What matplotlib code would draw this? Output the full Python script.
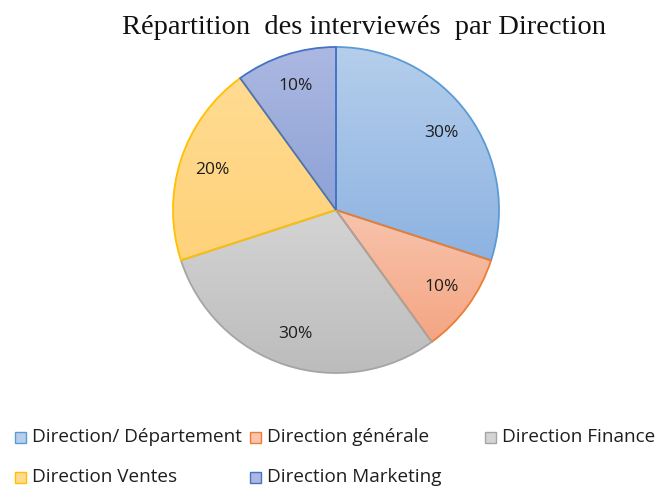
import numpy as np
import matplotlib
matplotlib.use("Agg")
import matplotlib.pyplot as plt
from matplotlib.colors import LinearSegmentedColormap
from matplotlib.patches import Rectangle

# Interviewees by department (share in %)
labels = ['Direction/ Département', 'Direction générale', 'Direction Finance',
          'Direction Ventes', 'Direction Marketing']
shares = [30, 10, 30, 20, 10]

# gradient fill (top, bottom) and outline per slice
top_colors = ['#B5CEEB', '#F8C4AD', '#D4D4D4', '#FFDB92', '#ACB8E1']
bottom_colors = ['#8DB3E2', '#F4A582', '#BCBCBC', '#FFD27A', '#8DA2D7']
edge_colors = ['#5B9BD5', '#ED7D31', '#A5A5A5', '#FFC000', '#4472C4']

W, H = 659, 487
fig = plt.figure(figsize=(W / 100, H / 100), dpi=100)
body_font = ['Open Sans', 'DejaVu Sans']

# pie axes: centre (336, 210) px, radius 163 px
cx, cy, r = 336, 210, 163
ax = fig.add_axes([(cx - r) / W, (H - cy - r) / H, 2 * r / W, 2 * r / H])

wedges, texts, autotexts = ax.pie(
    shares, startangle=90, counterclock=False, radius=1,
    autopct='%d%%', pctdistance=0.8,
    wedgeprops=dict(linewidth=1.3),
    textprops=dict(fontsize=12.5, color='#1E1E1E', family=body_font))

for w, c0, c1, ec in zip(wedges, top_colors, bottom_colors, edge_colors):
    w.set_facecolor('none')
    w.set_edgecolor(ec)
    w.set_zorder(3)
    w.set_clip_on(False)
    # vertical gradient over the slice's own bounding box
    ext = w.get_path().get_extents()
    ymin, ymax = ext.y0, ext.y1
    cmap = LinearSegmentedColormap.from_list('g', [c1, c0])
    grad = np.linspace(0, 1, 256).reshape(-1, 1)
    im = ax.imshow(grad, cmap=cmap, origin='lower', aspect='auto',
                   extent=(-1.05, 1.05, ymin, ymax), zorder=2)
    im.set_clip_path(w)

for t in autotexts:
    t.set_zorder(5)

ax.set_xlim(-1, 1)
ax.set_ylim(-1, 1)
ax.set_aspect('auto')
ax.axis('off')

fig.text(364 / W, 1 - 28 / H, 'Répartition  des interviewés  par Direction',
         ha='center', va='center', fontsize=20.5,
         family=['Liberation Serif', 'DejaVu Serif'], color='#111111')

# legend laid out in two rows, fixed column starts
legend_pos = [(15, 437), (250, 437), (485, 437), (15, 477), (250, 477)]
for (lx, ly), lab, c0, c1, ec in zip(legend_pos, labels, top_colors,
                                       bottom_colors, edge_colors):
    sq = 11
    fig.patches.append(Rectangle((lx / W, (H - ly - sq / 2) / H), sq / W, sq / H,
                                 transform=fig.transFigure, facecolor=c0,
                                 edgecolor=ec, linewidth=1.0))
    fig.text((lx + 17) / W, 1 - ly / H, lab, ha='left', va='center',
             fontsize=13.6, family=body_font, color='#1E1E1E')

fig.savefig('out.png', dpi=100)
